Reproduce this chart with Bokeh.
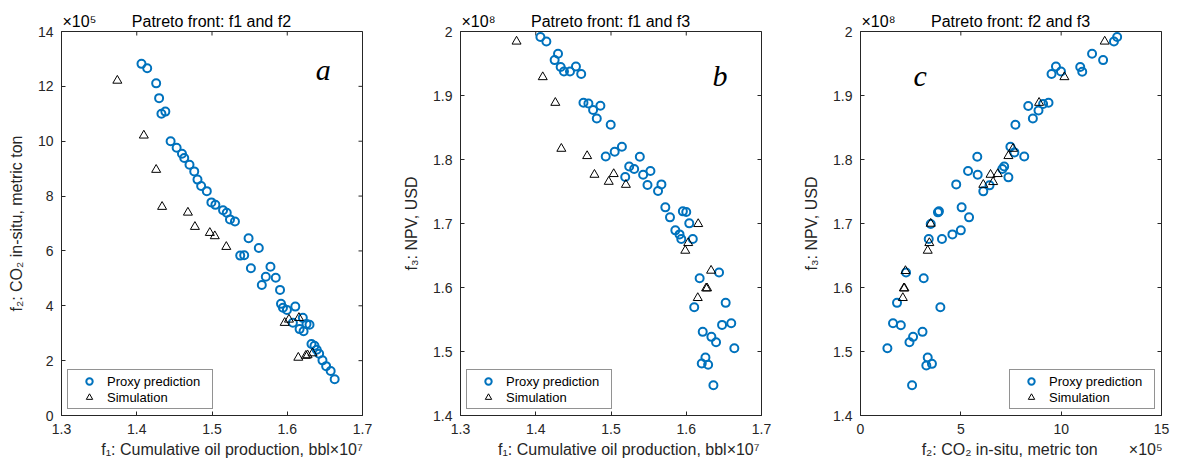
import math
from bokeh.plotting import figure
from bokeh.layouts import row
from bokeh.models import FixedTicker, Label, Legend, LegendItem
from bokeh.embed import file_html
from bokeh.resources import INLINE

# ---------------- data ----------------
# Panel a: f1 (x1e7 bbl) vs f2 (x1e5 metric ton)
a_proxy_f1 = [1.4063, 1.4139, 1.4258, 1.4297, 1.4328, 1.4380, 1.4450, 1.4530, 1.4601, 1.4631,
              1.4701, 1.4764, 1.4807, 1.4856, 1.4931, 1.4992, 1.5045, 1.5147, 1.5196, 1.5239,
              1.5305, 1.5486, 1.5622, 1.5375, 1.5428, 1.5517, 1.5777, 1.5715, 1.5847, 1.5662,
              1.5904, 1.5917, 1.5943, 1.5996, 1.6107, 1.6075, 1.6207, 1.6256, 1.6296, 1.6164,
              1.6217, 1.6322, 1.6362, 1.6392, 1.6424, 1.6468, 1.6517, 1.6577, 1.6630]
a_proxy_f2 = [12.82, 12.66, 12.11, 11.57, 11.00, 11.08, 10.00, 9.76, 9.54, 9.39,
              9.14, 8.90, 8.60, 8.37, 8.18, 7.77, 7.68, 7.48, 7.39, 7.15,
              7.07, 6.46, 6.11, 5.83, 5.84, 5.37, 5.42, 5.06, 5.02, 4.76,
              4.58, 4.07, 3.93, 3.85, 3.97, 3.38, 3.56, 3.34, 3.31, 3.15,
              3.07, 2.61, 2.54, 2.40, 2.25, 2.01, 1.80, 1.62, 1.32]
a_sim_f1 = [1.3742, 1.4094, 1.4258, 1.4337, 1.4680, 1.4773, 1.4971, 1.5037, 1.5190,
            1.5966, 1.6023, 1.6155, 1.6147, 1.6247, 1.6270, 1.6336]
a_sim_f2 = [12.21, 10.21, 8.96, 7.61, 7.40, 6.88, 6.66, 6.54, 6.15,
            3.38, 3.50, 3.56, 2.11, 2.18, 2.20, 2.27]

# Panel b: f1 (x1e7 bbl) vs f3 (x1e8 USD)
b_proxy_f1 = [1.4062, 1.4141, 1.4296, 1.4251, 1.4331, 1.4375, 1.4455, 1.4534, 1.4604, 1.4634,
              1.4700, 1.4762, 1.4859, 1.4811, 1.4996, 1.4930, 1.5049, 1.5145, 1.5383, 1.5242,
              1.5308, 1.5189, 1.5427, 1.5524, 1.5485, 1.5670, 1.5625, 1.5722, 1.5784, 1.5955,
              1.6000, 1.6040, 1.5855, 1.5911, 1.5934, 1.6087, 1.6436, 1.6178, 1.6524, 1.6106,
              1.6598, 1.6476, 1.6219, 1.6334, 1.6396, 1.6639, 1.6255, 1.6206, 1.6291, 1.6361]
b_proxy_f3 = [1.9913, 1.9844, 1.9652, 1.9553, 1.9444, 1.9375, 1.9375, 1.9454, 1.9335, 1.8887,
              1.8876, 1.8773, 1.8840, 1.8642, 1.8543, 1.8048, 1.8122, 1.8200, 1.8044, 1.7892,
              1.7852, 1.7727, 1.7763, 1.7820, 1.7602, 1.7611, 1.7508, 1.7252, 1.7096, 1.7190,
              1.7180, 1.7002, 1.6893, 1.6830, 1.6759, 1.6759, 1.6233, 1.6144, 1.5760, 1.5691,
              1.5441, 1.5416, 1.5307, 1.5229, 1.5144, 1.5051, 1.4905, 1.4812, 1.4792, 1.4473]
b_sim_f1 = [1.3745, 1.4093, 1.4260, 1.4340, 1.4683, 1.4780, 1.5036, 1.4970, 1.5198, 1.6159,
            1.6026, 1.5987, 1.6330, 1.6264, 1.6277, 1.6153]
b_sim_f3 = [1.9844, 1.9288, 1.8887, 1.8169, 1.8055, 1.7763, 1.7774, 1.7653, 1.7606, 1.6993,
            1.6696, 1.6576, 1.6264, 1.5988, 1.5988, 1.5837]

# Panel c: f2 (x1e5 metric ton) vs f3 (x1e8 USD)
c_proxy_f2 = [12.79, 12.63, 11.54, 12.09, 10.95, 11.05, 9.74, 9.99, 9.52, 9.37,
              9.10, 8.87, 8.36, 8.59, 7.72, 5.82, 8.16, 7.47, 7.67, 7.16,
              7.07, 5.36, 5.84, 7.37, 4.77, 6.43, 6.12, 5.04, 3.91, 3.86,
              5.41, 3.50, 5.00, 4.58, 4.06, 3.40, 2.27, 3.15, 3.98, 1.82,
              1.62, 2.01, 3.09, 2.62, 2.44, 1.34, 3.35, 3.28, 3.56, 2.57]
c_proxy_f3 = [1.9913, 1.9844, 1.9652, 1.9553, 1.9444, 1.9371, 1.9454, 1.9375, 1.9335, 1.8887,
              1.8867, 1.8767, 1.8835, 1.8642, 1.8543, 1.8044, 1.8048, 1.8200, 1.8111, 1.7892,
              1.7852, 1.7820, 1.7763, 1.7721, 1.7611, 1.7596, 1.7502, 1.7252, 1.7190, 1.7174,
              1.7096, 1.6993, 1.6893, 1.6830, 1.6759, 1.6759, 1.6233, 1.6144, 1.5691, 1.5760,
              1.5441, 1.5410, 1.5307, 1.5229, 1.5144, 1.5051, 1.4905, 1.4781, 1.4807, 1.4473]
c_sim_f2 = [12.17, 10.16, 8.90, 7.60, 7.37, 6.12, 6.48, 6.61, 6.84, 3.50,
            3.43, 3.35, 2.24, 2.16, 2.19, 2.11]
c_sim_f3 = [1.9844, 1.9288, 1.8887, 1.8169, 1.8055, 1.7606, 1.7763, 1.7649, 1.7774, 1.6998,
            1.6696, 1.6576, 1.6259, 1.5988, 1.5988, 1.5837]

titles = ["Patreto front: f1 and f2", "Patreto front: f1 and f3", "Patreto front: f2 and f3"]
panel_letters = ["a", "b", "c"]
f1_ticks = [1.3, 1.4, 1.5, 1.6, 1.7]
f2_ticks_a = [0, 2, 4, 6, 8, 10, 12, 14]
f3_ticks = [1.4, 1.5, 1.6, 1.7, 1.8, 1.9, 2.0]
f2_ticks_c = [0, 5, 10, 15]
legend_labels = ["Proxy prediction", "Simulation"]
xlabels = ["f\u2081: Cumulative oil production, bbl", "f\u2081: Cumulative oil production, bbl",
           "f\u2082: CO\u2082 in-situ, metric ton"]
ylabels = ["f\u2082: CO\u2082 in-situ, metric ton", "f\u2083: NPV, USD", "f\u2083: NPV, USD"]
x_exponents = ["\u00d710\u2077", "\u00d710\u2077", "\u00d710\u2075"]
y_exponents = ["\u00d710\u2075", "\u00d710\u2078", "\u00d710\u2078"]

BLUE = "#0072BD"
AX = "#262626"
FONT = "Liberation Sans"
NB = "\u00a0"


def make_panel(width, left, right, xr, yr, xticks, yticks, xlabel, ylabel,
               title, px, py, sx, sy, letter, letter_xy, legend_loc,
               yoverrides=None):
    p = figure(width=width, height=471, x_range=xr, y_range=yr,
               output_backend="svg", toolbar_location=None,
               min_border_left=left, min_border_right=right,
               min_border_top=31, min_border_bottom=56)
    p.grid.visible = False
    p.outline_line_color = AX
    p.outline_line_width = 1
    p.title.text = title
    p.title.align = "left"
    p.title.offset = 1
    p.title.text_font = FONT
    p.title.text_font_size = "16px"
    p.title.text_font_style = "normal"
    p.title.text_color = "black"
    p.title.standoff = 4

    for ax, tk, lab in ((p.xaxis[0], xticks, xlabel), (p.yaxis[0], yticks, ylabel)):
        ax.ticker = FixedTicker(ticks=tk)
        ax.axis_label = lab
        ax.axis_label_text_font = FONT
        ax.axis_label_text_font_size = "16px"
        ax.axis_label_text_font_style = "normal"
        ax.axis_label_text_color = AX
        ax.major_label_text_font = FONT
        ax.major_label_text_font_size = "14px"
        ax.major_label_text_color = AX
        ax.major_label_standoff = 8
        ax.major_tick_in = 4
        ax.major_tick_out = 0
        ax.minor_tick_line_color = None
        ax.axis_line_color = AX
        ax.major_tick_line_color = AX
    if yoverrides:
        p.yaxis[0].major_label_overrides = yoverrides
    p.xaxis[0].axis_label_standoff = 4
    p.yaxis[0].axis_label_standoff = 10

    # box ticks on the top and right edges (inward), at the same tick values
    p.scatter(xticks, [yr[1]] * len(xticks), marker="dash", angle=math.pi / 2,
              size=8, line_color=AX, line_width=1)
    p.scatter([xr[1]] * len(yticks), yticks, marker="dash",
              size=8, line_color=AX, line_width=1)

    r1 = p.scatter(px, py, marker="circle", size=8, line_width=2,
                   line_color=BLUE, fill_color=None)
    r2 = p.scatter(sx, sy, marker="triangle", size=9, line_width=1,
                   line_color="black", fill_color=None)

    leg = Legend(items=[LegendItem(label=legend_labels[0], renderers=[r1]),
                        LegendItem(label=legend_labels[1], renderers=[r2])],
                 location=legend_loc, label_text_font=FONT, label_text_font_size="13px",
                 label_text_color="black", border_line_color=AX, border_line_width=1,
                 glyph_width=36, glyph_height=16, label_height=16, label_width=102,
                 spacing=0, padding=3, margin=6, label_standoff=0,
                 background_fill_alpha=1)
    p.add_layout(leg, "center")

    p.add_layout(Label(x=letter_xy[0], y=letter_xy[1], text=letter,
                       text_font="Liberation Serif", text_font_style="italic",
                       text_font_size="30px", text_color="black",
                       text_align="center", text_baseline="middle"))
    return p


# exponent of the y axis sits at the top-left, on the title line;
# exponent of the x axis sits at the right end of the x-axis label line
pa = make_panel(400, 61, 38, (1.3, 1.7), (0, 14), f1_ticks, f2_ticks_a,
                NB * 9 + xlabels[0] + x_exponents[0], ylabels[0],
                y_exponents[0] + NB * 8 + titles[0],
                a_proxy_f1, a_proxy_f2, a_sim_f1, a_sim_f2,
                panel_letters[0], (1.648, 12.6), "bottom_left")
pb = make_panel(400, 57, 39, (1.3, 1.7), (1.4, 2.0), f1_ticks, f3_ticks,
                NB * 8 + xlabels[1] + x_exponents[1], ylabels[1],
                y_exponents[1] + NB * 8 + titles[1],
                b_proxy_f1, b_proxy_f3, b_sim_f1, b_sim_f3,
                panel_letters[1], (1.645, 1.931), "bottom_left",
                yoverrides={2.0: "2"})
pc = make_panel(379, 57, 18, (0, 15), (1.4, 2.0), f2_ticks_c, f3_ticks,
                NB * 14 + xlabels[2] + NB * 7 + x_exponents[2], ylabels[2],
                y_exponents[2] + NB * 8 + titles[2],
                c_proxy_f2, c_proxy_f3, c_sim_f2, c_sim_f3,
                panel_letters[2], (2.97, 1.931), "bottom_right",
                yoverrides={2.0: "2"})

layout = row(pa, pb, pc, spacing=0)
open("out.html", "w").write(file_html(layout, INLINE))
